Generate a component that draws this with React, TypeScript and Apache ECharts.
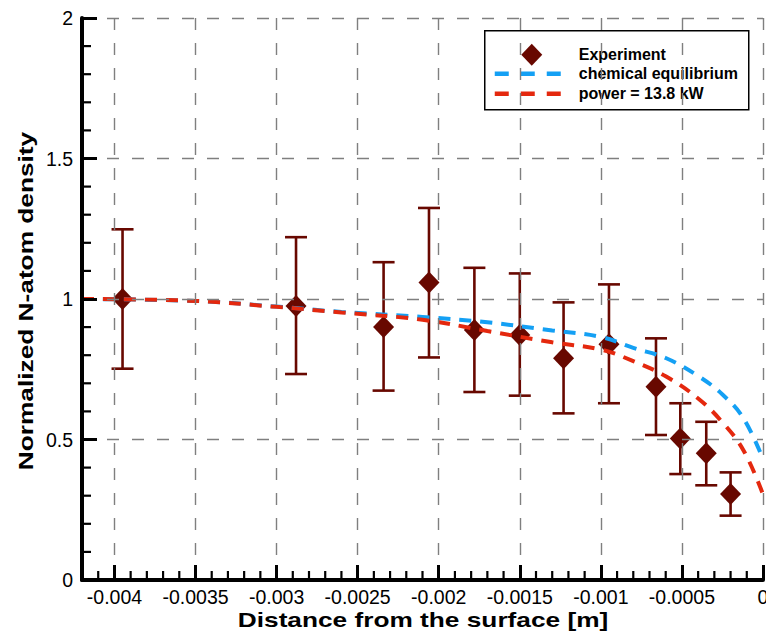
import React, { useEffect, useRef } from "react";
import * as echarts from "echarts";

// Experimental data
const expX = [-0.00395, -0.00288, -0.00234, -0.00206, -0.00178, -0.0015, -0.00123, -0.00095, -0.00066, -0.00051, -0.00035, -0.0002];
const expY = [1.0, 0.975, 0.9, 1.059, 0.89, 0.872, 0.789, 0.839, 0.688, 0.504, 0.451, 0.306];
const errHigh = [1.248, 1.22, 1.131, 1.324, 1.111, 1.091, 0.988, 1.052, 0.86, 0.629, 0.563, 0.383];
const errLow = [0.752, 0.733, 0.674, 0.792, 0.669, 0.656, 0.593, 0.629, 0.516, 0.377, 0.337, 0.229];

// Model curves
const curveX = [-0.0042, -0.0035, -0.003, -0.0026, -0.0021, -0.0017, -0.0013, -0.001, -0.0008, -0.0006, -0.0004, -0.00025, -0.00012, 0];
const equilY = [1.0, 0.993, 0.973, 0.954, 0.936, 0.917, 0.888, 0.865, 0.826, 0.79, 0.726, 0.66, 0.575, 0.43];
const powerY = [1.0, 0.993, 0.972, 0.952, 0.926, 0.886, 0.846, 0.82, 0.779, 0.725, 0.646, 0.561, 0.461, 0.305];

// Axis ticks
const xMin = -0.0042;
const xMax = 0;
const yTicks = [0, 0.5, 1, 1.5, 2];
const xMinorTicks: number[] = [];
for (let k = -41; k < 0; k++) if (k % 5 !== 0) xMinorTicks.push(k / 10000);
const yMinorTicks: number[] = [];
for (let k = 1; k < 20; k++) if (k % 5 !== 0) yMinorTicks.push(k / 10);

const legendLabels = ["Experiment", "chemical equilibrium", "power = 13.8 kW"];
const xTitle = "Distance from the surface [m]";
const yTitle = "Normalized N-atom density";

const MAROON = "#680800";
const BLUE = "#14a0f4";
const RED = "#e4280e";
const FONT = "Liberation Sans, Arial, sans-serif";

export default function App() {
  const ref = useRef<HTMLDivElement>(null);
  useEffect(() => {
    document.body.style.margin = "0";
    const chart = echarts.init(ref.current!, null, { renderer: "svg" });
    const gridStyle = { color: "#7f7f7f", width: 1.4, type: [12, 13] as any };
    const titleStyle = { fontFamily: FONT, fontSize: 21, fontWeight: "bold", fill: "#000", align: "center", verticalAlign: "middle" };
    const option: any = {
      animation: false,
      backgroundColor: "#ffffff",
      grid: { left: 82, right: 3, top: 18, bottom: 53, containLabel: false, outerBoundsMode: "none" },
      xAxis: {
        type: "value",
        min: xMin,
        max: xMax,
        splitNumber: 8,
        axisLine: { show: true, onZero: false, lineStyle: { color: "#000", width: 4 } },
        axisTick: { show: true, inside: true, length: 15, lineStyle: { color: "#000", width: 3 } },
        minorTick: { show: false },
        axisLabel: {
          showMinLabel: false,
          margin: 7,
          fontFamily: FONT,
          fontSize: 19.5,
          color: "#000",
          hideOverlap: false,
        },
        splitLine: { show: true, lineStyle: gridStyle },
        z: 5,
      },
      yAxis: {
        type: "value",
        min: yTicks[0],
        max: yTicks[yTicks.length - 1],
        interval: 0.5,
        axisLine: { show: true, onZero: false, lineStyle: { color: "#000", width: 4 } },
        axisTick: { show: true, inside: true, length: 15, lineStyle: { color: "#000", width: 3 } },
        minorTick: { show: false },
        axisLabel: { margin: 9, fontFamily: FONT, fontSize: 19.5, color: "#000" },
        splitLine: { show: true, lineStyle: gridStyle },
        z: 5,
      },
      series: [
        {
          name: "xMinorTicks",
          type: "custom",
          silent: true,
          z: 6,
          clip: false,
          data: xMinorTicks.map((v) => [v, yTicks[0]]),
          encode: { x: 0, y: 1 },
          renderItem: (params: any, api: any) => {
            const p = api.coord([api.value(0), api.value(1)]);
            return { type: "line", shape: { x1: p[0], y1: p[1], x2: p[0], y2: p[1] - 9 }, style: { stroke: "#000", lineWidth: 2.2 } };
          },
        },
        {
          name: "yMinorTicks",
          type: "custom",
          silent: true,
          z: 6,
          clip: false,
          data: yMinorTicks.map((v) => [xMin, v]),
          encode: { x: 0, y: 1 },
          renderItem: (params: any, api: any) => {
            const p = api.coord([api.value(0), api.value(1)]);
            return { type: "line", shape: { x1: p[0], y1: p[1], x2: p[0] + 9, y2: p[1] }, style: { stroke: "#000", lineWidth: 2.2 } };
          },
        },
        {
          name: "errorbars",
          type: "custom",
          z: 2,
          data: expX.map((x, i) => [x, errLow[i], errHigh[i]]),
          encode: { x: 0, y: [1, 2] },
          renderItem: (params: any, api: any) => {
            const x = api.value(0);
            const lo = api.coord([x, api.value(1)]);
            const hi = api.coord([x, api.value(2)]);
            const cw = 11;
            const st = { stroke: MAROON, lineWidth: 2.6 };
            return {
              type: "group",
              children: [
                { type: "line", shape: { x1: hi[0], y1: hi[1], x2: lo[0], y2: lo[1] }, style: st },
                { type: "line", shape: { x1: hi[0] - cw, y1: hi[1], x2: hi[0] + cw, y2: hi[1] }, style: st },
                { type: "line", shape: { x1: lo[0] - cw, y1: lo[1], x2: lo[0] + cw, y2: lo[1] }, style: st },
              ],
            };
          },
        },
        {
          name: legendLabels[0],
          type: "scatter",
          z: 3,
          symbol: "diamond",
          symbolSize: [21, 22],
          itemStyle: { color: MAROON, opacity: 1 },
          data: expX.map((x, i) => [x, expY[i]]),
        },
        {
          name: legendLabels[1],
          type: "line",
          z: 4,
          smooth: 0.4,
          showSymbol: false,
          symbol: "none",
          lineStyle: { color: BLUE, width: 4, type: [12, 9] },
          data: curveX.map((x, i) => [x, equilY[i]]),
        },
        {
          name: legendLabels[2],
          type: "line",
          z: 4,
          smooth: 0.4,
          showSymbol: false,
          symbol: "none",
          lineStyle: { color: RED, width: 4, type: [12, 9] },
          data: curveX.map((x, i) => [x, powerY[i]]),
        },
      ],
      graphic: [
        { type: "text", x: 423, y: 619, scaleX: 1.25, z: 10, style: { text: xTitle, ...titleStyle } },
        { type: "text", x: 25, y: 301, rotation: Math.PI / 2, scaleX: 1.25, z: 10, style: { text: yTitle, ...titleStyle } },
        {
          type: "group",
          left: 484,
          top: 30,
          z: 10,
          children: [
            { type: "rect", shape: { x: 0, y: 0, width: 264, height: 79 }, style: { fill: "#fff", stroke: "#000", lineWidth: 1.5 } },
            { type: "polygon", shape: { points: [[47, 13], [57.5, 24], [47, 35], [36.5, 24]] }, style: { fill: MAROON } },
            { type: "line", shape: { x1: 10, y1: 43, x2: 83, y2: 43 }, style: { stroke: BLUE, lineWidth: 4.5, lineDash: [14, 12] } },
            { type: "line", shape: { x1: 10, y1: 63, x2: 83, y2: 63 }, style: { stroke: RED, lineWidth: 4.5, lineDash: [14, 12] } },
            { type: "text", x: 94, y: 24, style: { text: legendLabels[0], fontFamily: FONT, fontSize: 16, fontWeight: "bold", fill: "#000", verticalAlign: "middle" } },
            { type: "text", x: 94, y: 43, style: { text: legendLabels[1], fontFamily: FONT, fontSize: 16, fontWeight: "bold", fill: "#000", verticalAlign: "middle" } },
            { type: "text", x: 94, y: 63, style: { text: legendLabels[2], fontFamily: FONT, fontSize: 16, fontWeight: "bold", fill: "#000", verticalAlign: "middle" } },
          ],
        },
      ],
    };
    chart.setOption(option);
    return () => chart.dispose();
  }, []);
  return <div ref={ref} style={{ width: 766, height: 633 }} />;
}
